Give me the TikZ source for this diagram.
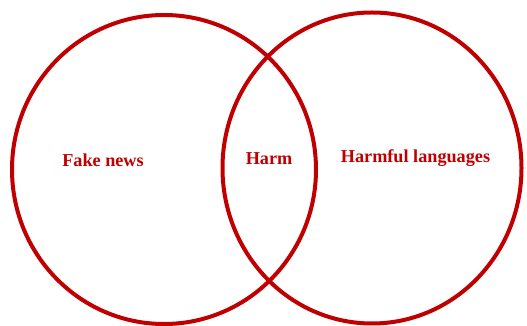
\documentclass[tikz,border=0pt]{standalone}
\usepackage{fontspec}
\setmainfont{Liberation Serif}
\definecolor{vred}{HTML}{C00000}
\begin{document}
\begin{tikzpicture}[x=1pt,y=1pt,
  ring/.style={draw=vred,line width=4pt},
  lbl/.style={text=vred,font=\bfseries\fontsize{18.2}{21}\selectfont,inner sep=0pt}]
\useasboundingbox (0,0) rectangle (527,326);
\draw[ring] (164,156.5) ellipse [x radius=152,y radius=154.5];
\draw[ring] (372,158) ellipse [x radius=149.5,y radius=155.5];
\node[lbl] (fake) at (103,166) {Fake news};
\node[lbl] (harm) at (269,167) {Harm};
\node[lbl] (lang) at (415.5,168) {Harmful languages};
\end{tikzpicture}
\end{document}
